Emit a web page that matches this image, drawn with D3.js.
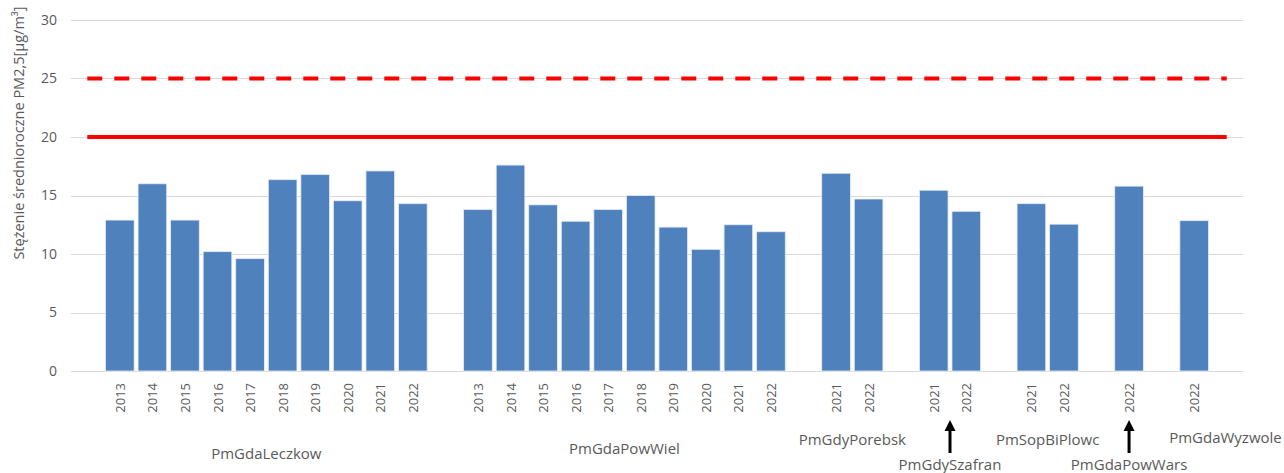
<!DOCTYPE html>
<html>
<head>
<meta charset="utf-8">
<script src="https://cdn.jsdelivr.net/npm/d3@7"></script>
<style>
  body { margin: 0; background: #fff; }
  text { font-family: "Open Sans", "Noto Sans", sans-serif; fill: #595959; }
</style>
</head>
<body>
<svg id="chart" width="1284" height="473"></svg>
<script>
// stations and their yearly averages
const stations = ["PmGdaLeczkow", "PmGdaPowWiel", "PmGdyPorebsk", "PmGdySzafran", "PmSopBiPlowc", "PmGdaPowWars", "PmGdaWyzwole"];
const years = [
  ["2013","2014","2015","2016","2017","2018","2019","2020","2021","2022"],
  ["2013","2014","2015","2016","2017","2018","2019","2020","2021","2022"],
  ["2021","2022"],
  ["2021","2022"],
  ["2021","2022"],
  ["2022"],
  ["2022"]
];
const values = [
  [12.9, 16.0, 12.9, 10.2, 9.6, 16.35, 16.8, 14.55, 17.1, 14.3],
  [13.8, 17.6, 14.2, 12.8, 13.8, 15.0, 12.3, 10.4, 12.5, 11.9],
  [16.9, 14.7],
  [15.45, 13.65],
  [14.3, 12.55],
  [15.8],
  [12.85]
];
const yTicks = [0, 5, 10, 15, 20, 25, 30];
const limitSolid = 20;
const limitDashed = 25;
// stations marked with an arrow
const arrowed = ["PmGdySzafran", "PmGdaPowWars"];

const svg = d3.select("#chart");
const margin = {left: 71, right: 41, top: 20, bottom: 102};
const width = 1284 - margin.left - margin.right;
const height = 473 - margin.top - margin.bottom;

// build slots: blank, group, blank, group, ... blank
let slots = ["gap0"];
let bars = [];
stations.forEach(function(s, i) {
  years[i].forEach(function(yr, j) {
    const key = s + "|" + yr;
    slots.push(key);
    bars.push({station: s, year: yr, value: values[i][j], key: key});
  });
  slots.push("gap" + (i + 1));
});

const x = d3.scaleBand().domain(slots).range([0, width]);
const y = d3.scaleLinear().domain([0, 30]).range([height, 0]);
const step = x.step();
const slotX = function(k) { return x(k); };

const g = svg.append("g").attr("transform", "translate(" + margin.left + "," + margin.top + ")");

// grid lines
g.selectAll(".grid")
  .data(yTicks)
  .join("line")
  .attr("x1", 0).attr("x2", width)
  .attr("y1", d => Math.round(y(d)) + 0.5).attr("y2", d => Math.round(y(d)) + 0.5)
  .attr("stroke", "#d9d9d9").attr("stroke-width", 1);

// y tick labels
g.selectAll(".ytick")
  .data(yTicks)
  .join("text")
  .attr("x", -14)
  .attr("y", d => y(d))
  .attr("dy", "0.35em")
  .attr("text-anchor", "end")
  .attr("font-size", "14px")
  .text(d => d);

// y axis title
svg.append("text")
  .attr("transform", "translate(24," + 133 + ") rotate(-90)")
  .attr("text-anchor", "middle")
  .attr("font-size", "14.5px")
  .text("Stężenie średnioroczne PM2,5[µg/m³]");

// bars
g.selectAll(".bar")
  .data(bars)
  .join("rect")
  .attr("x", d => slotX(d.key) + step * 0.06)
  .attr("width", step * 0.88)
  .attr("y", d => y(d.value))
  .attr("height", d => height - y(d.value))
  .attr("fill", "#4f81bd")
  .attr("stroke", "#e4ecf5")
  .attr("stroke-width", 0.8);

// limit lines, from the middle of the first slot to the middle of the last
const xStart = step / 2, xEnd = width - step / 2;
g.append("line")
  .attr("x1", xStart).attr("x2", xEnd)
  .attr("y1", y(limitSolid)).attr("y2", y(limitSolid))
  .attr("stroke", "#ff0000").attr("stroke-width", 4);
g.append("line")
  .attr("x1", xStart).attr("x2", xEnd)
  .attr("y1", y(limitDashed)).attr("y2", y(limitDashed))
  .attr("stroke", "#ff0000").attr("stroke-width", 4)
  .attr("stroke-dasharray", "15,12");

// year labels
g.selectAll(".year")
  .data(bars)
  .join("text")
  .attr("transform", d => "translate(" + (slotX(d.key) + step / 2 + 5) + "," + (height + 12) + ") rotate(-90)")
  .attr("text-anchor", "end")
  .attr("font-size", "13px")
  .text(d => d.year);

// station labels, some pushed down or up so they don't overlap
const labelRow = {"PmGdaLeczkow": 88, "PmGdaPowWiel": 83, "PmGdyPorebsk": 74, "PmGdySzafran": 99,
  "PmSopBiPlowc": 74, "PmGdaPowWars": 99, "PmGdaWyzwole": 72};
stations.forEach(function(s, i) {
  const ks = years[i].map(yr => s + "|" + yr);
  const cx = (slotX(ks[0]) + slotX(ks[ks.length - 1]) + step) / 2;
  const last = i === stations.length - 1;
  g.append("text")
    .attr("x", last ? cx - 25 : cx)
    .attr("y", height + labelRow[s])
    .attr("text-anchor", last ? "start" : "middle")
    .attr("font-size", "15px")
    .text(s);
});

// arrows
stations.forEach(function(s, i) {
  if (arrowed.indexOf(s) < 0) return;
  const ks = years[i].map(yr => s + "|" + yr);
  const ax = (slotX(ks[0]) + slotX(ks[ks.length - 1]) + step) / 2;
  const top = height + 49, bottom = height + 82;
  g.append("line")
    .attr("x1", ax).attr("x2", ax)
    .attr("y1", top + 8).attr("y2", bottom)
    .attr("stroke", "#000").attr("stroke-width", 3);
  g.append("path")
    .attr("d", "M" + ax + "," + top + "L" + (ax - 5.5) + "," + (top + 11) + "L" + (ax + 5.5) + "," + (top + 11) + "Z")
    .attr("fill", "#000");
});
</script>
</body>
</html>
